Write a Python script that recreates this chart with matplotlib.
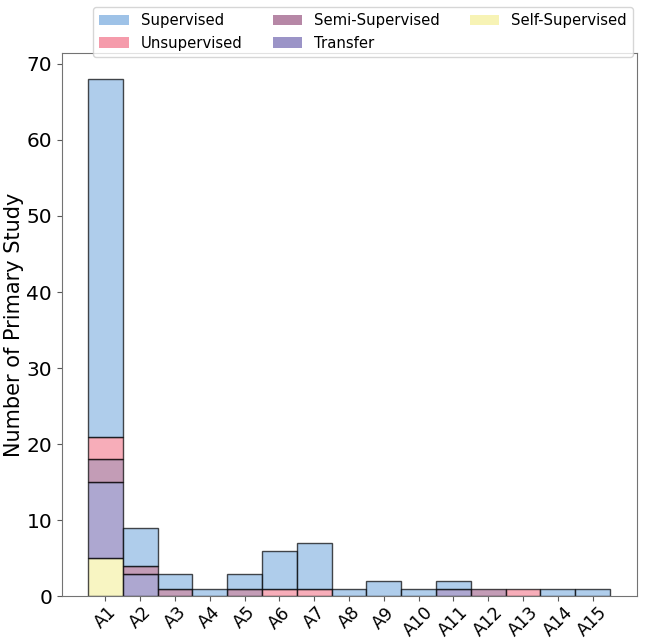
import numpy as np
import matplotlib
matplotlib.use("Agg")
import matplotlib.pyplot as plt

categories = ["A1", "A2", "A3", "A4", "A5", "A6", "A7", "A8", "A9", "A10",
              "A11", "A12", "A13", "A14", "A15"]

# stacked from the bottom up
self_supervised = [5, 0, 0, 0, 0, 0, 0, 0, 0, 0, 0, 0, 0, 0, 0]
transfer        = [10, 3, 0, 0, 0, 0, 0, 0, 0, 0, 1, 0, 0, 0, 0]
semi_supervised = [3, 1, 1, 0, 1, 0, 0, 0, 0, 0, 0, 1, 0, 0, 0]
unsupervised    = [3, 0, 0, 0, 0, 1, 1, 0, 0, 0, 0, 0, 1, 0, 0]
supervised      = [47, 5, 2, 1, 2, 5, 6, 1, 2, 1, 1, 0, 0, 1, 1]

series = [
    ("Supervised", supervised, "#8db8e3"),
    ("Unsupervised", unsupervised, "#f48a9c"),
    ("Semi-Supervised", semi_supervised, "#aa7297"),
    ("Transfer", transfer, "#8a82bd"),
    ("Self-Supervised", self_supervised, "#f6f1a8"),
]

fig, ax = plt.subplots(figsize=(6.45, 6.4), dpi=100)
x = np.arange(len(categories))

bottom = np.zeros(len(categories))
handles = {}
for name, vals, color in reversed(series):
    vals = np.array(vals, dtype=float)
    mask = vals > 0
    ax.bar(x[mask], vals[mask], width=1.0, bottom=bottom[mask], color=color,
           alpha=0.7, edgecolor="black", linewidth=1.0)
    bottom += vals
    handles[name] = plt.Rectangle((0, 0), 1, 1, facecolor=color, alpha=0.85, edgecolor="none")

ax.set_xticks(x)
ax.set_xticklabels(categories, rotation=45, fontsize=12.5)
ax.tick_params(axis="x", pad=1.5)
ax.tick_params(axis="y", labelsize=14.5)
ax.tick_params(colors="0.35", labelcolor="black")
for sp in ax.spines.values():
    sp.set_color("0.45")
ax.set_xlim(-1.25, 15.28)
ax.set_ylim(0, 71.4)
ax.set_ylabel("Number of Primary Study", fontsize=15)
ax.yaxis.set_label_coords(-0.066, 0.5)

names = [s[0] for s in series]
fig.legend([handles[n] for n in names], names, loc="upper center", ncol=3,
           bbox_to_anchor=(0.563, 1.0), fontsize=10.7, frameon=True)

plt.subplots_adjust(left=0.096, right=0.988, top=0.917, bottom=0.068)
plt.savefig("out.png")
